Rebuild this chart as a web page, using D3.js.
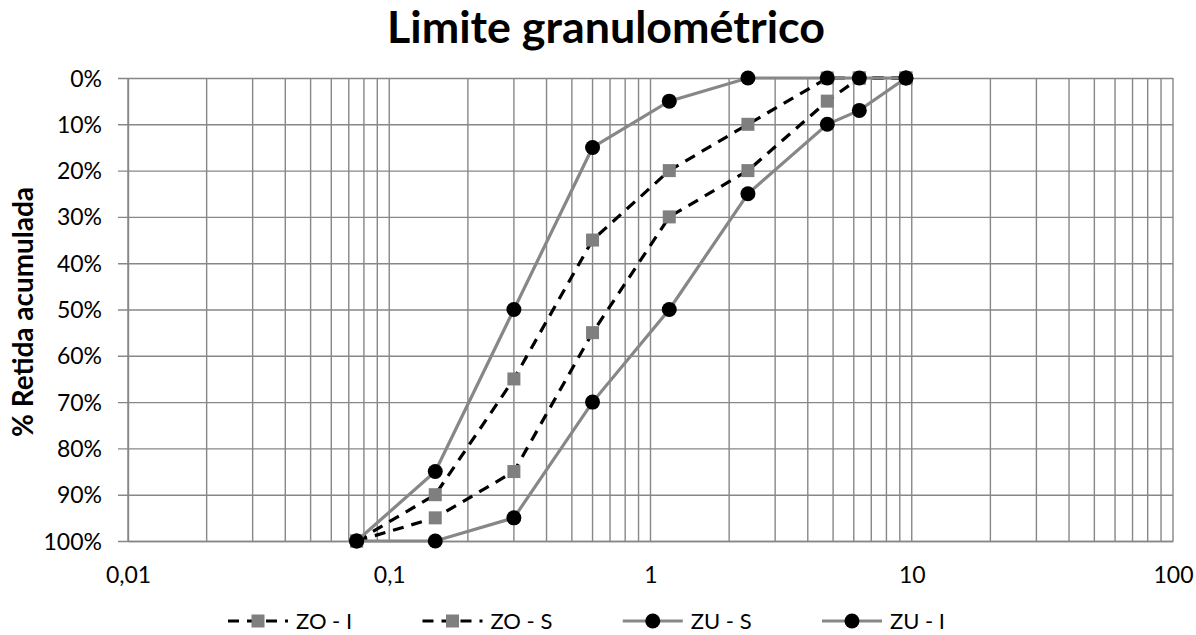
<!DOCTYPE html>
<html>
<head>
<meta charset="utf-8">
<script src="https://cdn.jsdelivr.net/npm/d3@7"></script>
<style>
  body { margin: 0; background: #fff; }
  svg { display: block; font-family: Lato, "Open Sans", sans-serif; }
</style>
</head>
<body>
<svg width="1196" height="635"></svg>
<script>
// sieve openings (mm) and % retained for each limit curve
var sieves = [0.075, 0.15, 0.3, 0.6, 1.18, 2.36, 4.75, 6.3, 9.5];
var zoI = [100, 90, 65, 35, 20, 10, 0, 0, 0];
var zoS = [100, 95, 85, 55, 30, 20, 5, 0, 0];
var zuS = [100, 100, 95, 70, 50, 25, 10, 7, 0];
var zuI = [100, 85, 50, 15, 5, 0, 0, 0, 0];

var seriesNames = ["ZO - I", "ZO - S", "ZU - S", "ZU - I"];
var xTicks = [0.01, 0.1, 1, 10, 100];
var xTickLabels = ["0,01", "0,1", "1", "10", "100"];
var yTicks = [0, 10, 20, 30, 40, 50, 60, 70, 80, 90, 100];

var svg = d3.select("svg");
var grey = "#878787";

var plotLeft = 128, plotRight = 1173, plotTop = 78, plotBottom = 541;

var scaleX = d3.scaleLog()
    .domain([0.01, 100])
    .range([plotLeft, plotRight]);

var scaleY = d3.scaleLinear()
    .domain([0, 100])
    .range([plotTop, plotBottom]);

// vertical grid (every 1..9 x decade)
var minor = [];
[0.01, 0.1, 1, 10].forEach(function(dec) {
  for (var k = 1; k < 10; k++) minor.push(dec * k);
});
minor.push(100);

svg.append("g").selectAll("line")
    .data(minor)
    .enter().append("line")
    .attr("x1", function(d) { return scaleX(d); })
    .attr("x2", function(d) { return scaleX(d); })
    .attr("y1", plotTop)
    .attr("y2", plotBottom)
    .attr("stroke", grey)
    .attr("stroke-width", 1.4);

// horizontal grid + y ticks
var yAxis = d3.axisLeft(scaleY)
    .tickValues(yTicks)
    .tickSize(-(plotRight - plotLeft))
    .tickSizeOuter(0)
    .tickFormat(function(d) { return d + "%"; });

var gy = svg.append("g")
    .attr("transform", "translate(" + plotLeft + ",0)")
    .call(yAxis);
gy.select(".domain").attr("stroke", grey).attr("stroke-width", 1.4);
gy.selectAll(".tick line").attr("stroke", grey).attr("stroke-width", 1.4)
    .attr("x1", -10);
gy.selectAll(".tick text")
    .attr("x", -26)
    .attr("dy", "0.35em")
    .attr("fill", "#000")
    .style("font-size", "23px")
    .style("font-family", "Lato");

// x axis
var xAxis = d3.axisBottom(scaleX)
    .tickValues(xTicks)
    .tickSize(0)
    .tickSizeOuter(0)
    .tickFormat(function(d, i) { return xTickLabels[i]; });

var gx = svg.append("g")
    .attr("transform", "translate(0," + plotBottom + ")")
    .call(xAxis);
gx.select(".domain").attr("stroke", grey).attr("stroke-width", 1.6);
gx.selectAll(".tick text")
    .attr("y", 42)
    .attr("dy", 0)
    .attr("fill", "#000")
    .style("font-size", "23px")
    .style("font-family", "Lato");

// series
var allSeries = [
  { name: seriesNames[0], values: zoI, dashed: true },
  { name: seriesNames[1], values: zoS, dashed: true },
  { name: seriesNames[2], values: zuS, dashed: false },
  { name: seriesNames[3], values: zuI, dashed: false }
];

var line = d3.line()
    .x(function(d) { return scaleX(d[0]); })
    .y(function(d) { return scaleY(d[1]); });

function drawLineStyle(sel, s) {
  sel.attr("fill", "none")
     .attr("stroke", s.dashed ? "#000" : grey)
     .attr("stroke-width", 3.2);
  if (s.dashed) sel.attr("stroke-dasharray", "11,8");
}

function drawMarker(g, s, x, y) {
  if (s.dashed) {
    g.append("rect")
        .attr("x", x - 6.5).attr("y", y - 6.5)
        .attr("width", 13).attr("height", 13)
        .attr("fill", "#7f7f7f");
  } else {
    g.append("circle")
        .attr("cx", x).attr("cy", y)
        .attr("r", 7.5)
        .attr("fill", "#000");
  }
}

allSeries.forEach(function(s) {
  var pts = sieves.map(function(v, i) { return [v, s.values[i]]; });
  var g = svg.append("g");
  g.append("path").datum(pts).attr("d", line).call(drawLineStyle, s);
  pts.forEach(function(p) {
    drawMarker(g, s, scaleX(p[0]), scaleY(p[1]));
  });
});

// fit text to a given width
function fit(textSel, base, width) {
  var len = textSel.node().getComputedTextLength();
  textSel.style("font-size", (base * width / len) + "px");
}

// title
var title = svg.append("text")
    .attr("x", 606)
    .attr("y", 43)
    .attr("text-anchor", "middle")
    .style("font-family", "Lato")
    .style("font-weight", "bold")
    .style("font-size", "38px")
    .text("Limite granulométrico");
fit(title, 38, 438);

// y title
var ytitle = svg.append("text")
    .attr("transform", "translate(33,312) rotate(-90)")
    .attr("text-anchor", "middle")
    .style("font-family", "Lato")
    .style("font-weight", "bold")
    .style("font-size", "21px")
    .text("% Retida acumulada");
fit(ytitle, 21, 250);

// legend
var legY = 621, symW = 60, txtGap = 8, legStart = 228, legEnd = 945;
var legend = svg.append("g");
var items = allSeries.map(function(s) {
  var t = legend.append("text")
      .attr("y", legY + 8)
      .style("font-family", "Lato")
      .style("font-size", "22px")
      .text(s.name);
  return { s: s, t: t, w: t.node().getComputedTextLength() };
});
var total = d3.sum(items, function(d) { return symW + txtGap + d.w; });
var gap = (legEnd - legStart - total) / (items.length - 1);
var cx = legStart;
items.forEach(function(it) {
  legend.append("line")
      .attr("x1", cx).attr("x2", cx + symW)
      .attr("y1", legY).attr("y2", legY)
      .call(drawLineStyle, it.s);
  drawMarker(legend, it.s, cx + symW / 2, legY);
  it.t.attr("x", cx + symW + txtGap);
  cx += symW + txtGap + it.w + gap;
});
</script>
</body>
</html>
